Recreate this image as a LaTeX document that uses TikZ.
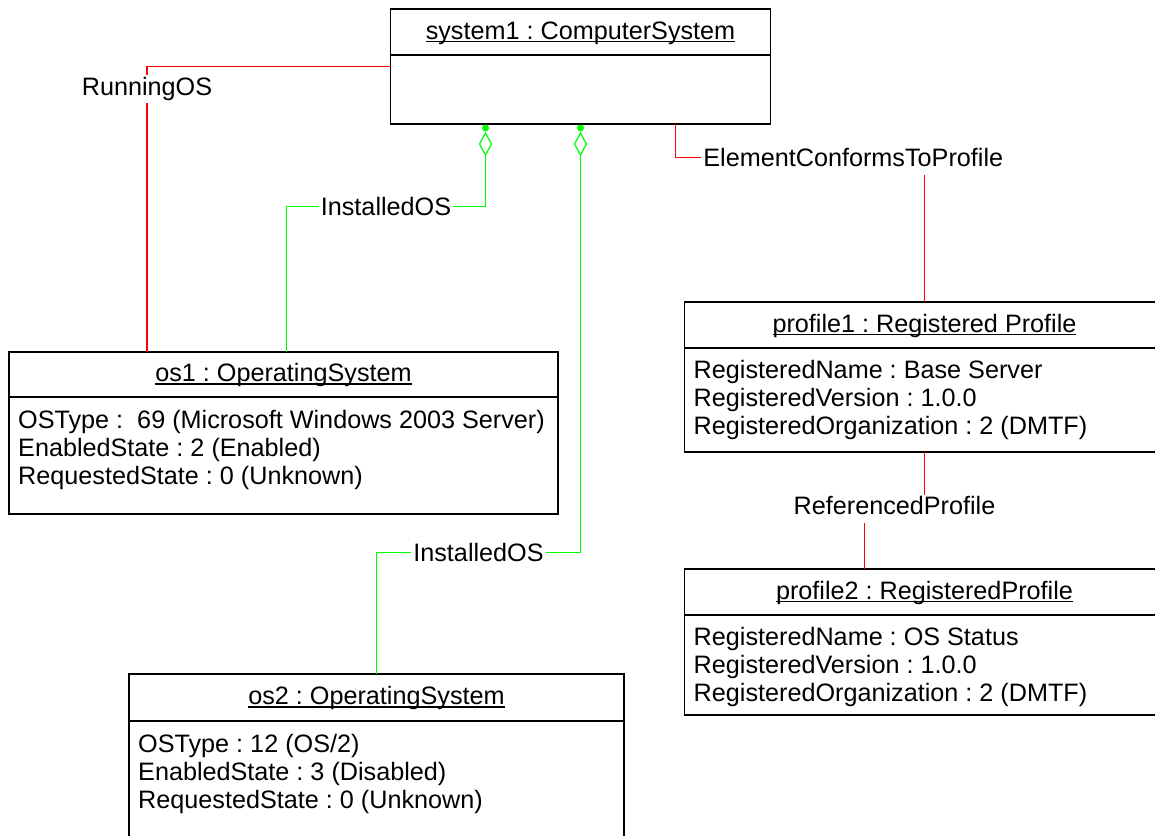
\documentclass[tikz,border=0pt]{standalone}
\usepackage{fontspec}
\setmainfont{Liberation Sans}
\usepackage{xcolor}
\usetikzlibrary{positioning,shapes.geometric}

\definecolor{assocred}{RGB}{255,0,0}
\definecolor{assocgreen}{RGB}{0,255,0}
\newcommand{\umlfont}{\fontsize{25.2}{28}\selectfont}
\newcommand{\uname}[1]{\setbox0\hbox{#1}\rlap{\rule[-3pt]{\wd0}{1.3pt}}\box0}
\frenchspacing

\begin{document}
\begin{tikzpicture}[x=1pt, y=-1pt,
    objtitle/.style={draw, line width=1.6pt, outer sep=0pt, minimum height=46pt, inner sep=0pt, text height=18pt, text depth=4pt, font=\umlfont},
    objattr/.style={draw, line width=1.6pt, outer sep=0pt, anchor=north, inner sep=0pt},
    attrtext/.style={anchor=north west, inner sep=0pt, align=left, font=\umlfont},
    runline/.style={assocred, line width=1.4pt},
    instline/.style={assocgreen, line width=1.3pt},
    assoclabel/.style={fill=white, text=black, inner sep=2pt, text height=18pt, text depth=6pt, yshift=-3pt, font=\umlfont},
    aggdiamond/.style={diamond, draw=assocgreen, fill=white, line width=1.2pt, outer sep=0pt, minimum width=12pt, minimum height=22pt, inner sep=0pt}]
            \useasboundingbox (0,0) rectangle (1155,835);
            \fill [white] (0,0) rectangle (1155,835);
            \clip (0,0) rectangle (1155,835);

            % objects
            \node [objtitle, minimum width=380pt] (sys) at (580.5,32) {\uname{system1 : ComputerSystem}};
            \node [objattr, minimum width=380pt, minimum height=69pt] (sysattr) at (sys.south) {};

            \node [objtitle, minimum width=549pt, minimum height=45pt] (os1) at (283.5,374.5) {\uname{os1 : OperatingSystem}};
            \node [objattr, minimum width=549pt, minimum height=117pt] (os1attr) at (os1.south) {};
            \node [attrtext] (os1text) at ([xshift=9pt,yshift=-13pt]os1attr.north west) {OSType : \ 69 (Microsoft Windows 2003 Server)\\EnabledState : 2 (Enabled)\\RequestedState : 0 (Unknown)};

            \node [objtitle, minimum width=495pt, minimum height=47pt] (os2) at (376.5,697.5) {\uname{os2 : OperatingSystem}};
            \node [objattr, minimum width=495pt, minimum height=130pt] (os2attr) at (os2.south) {};
            \node [attrtext] (os2text) at ([xshift=9pt,yshift=-13pt]os2attr.north west) {OSType : 12 (OS/2)\\EnabledState : 3 (Disabled)\\RequestedState : 0 (Unknown)};

            \node [objtitle, minimum width=480pt] (prof1) at (924.5,325) {\uname{profile1 : Registered Profile}};
            \node [objattr, minimum width=480pt, minimum height=104pt] (prof1attr) at (prof1.south) {};
            \node [attrtext] (prof1text) at ([xshift=9pt,yshift=-12pt]prof1attr.north west) {RegisteredName : Base Server\\RegisteredVersion : 1.0.0\\RegisteredOrganization : 2 (DMTF)};

            \node [objtitle, minimum width=480pt] (prof2) at (924.5,592) {\uname{profile2 : RegisteredProfile}};
            \node [objattr, minimum width=480pt, minimum height=100pt] (prof2attr) at (prof2.south) {};
            \node [attrtext] (prof2text) at ([xshift=9pt,yshift=-12pt]prof2attr.north west) {RegisteredName : OS Status\\RegisteredVersion : 1.0.0\\RegisteredOrganization : 2 (DMTF)};

            % aggregation ends
            \node [aggdiamond] (agg1) at ([xshift=-95pt,yshift=-20pt]sysattr.south) {};
            \node [aggdiamond] (agg2) at ([yshift=-20pt]sysattr.south) {};
            \fill [assocgreen] ([yshift=5pt]agg1.north) circle (3.5pt);
            \fill [assocgreen] ([yshift=5pt]agg2.north) circle (3.5pt);

            % associations
            \draw [runline] ([yshift=-11.5pt]sysattr.north west) -| node [assoclabel, pos=0.535]{RunningOS} ([xshift=138pt]os1.north west);
            \draw [instline] (agg1.south) -- ++(0,51.5) -| node [assoclabel, pos=0.25]{InstalledOS} ([xshift=277.5pt]os1.north west);
            \draw [instline] (agg2.south) -- ++(0,397.5) -| node [assoclabel, pos=0.25]{InstalledOS} ([xshift=247.5pt]os2.north west);
            \draw [runline] ([xshift=95pt]sysattr.south) -- ++(0,33.5) -| node [assoclabel, pos=0.357]{ElementConformsToProfile} (prof1.north);
            \draw [runline] (prof1attr.south) -- ++(0,53.5) -| node [assoclabel, pos=0.25]{ReferencedProfile} ([xshift=180pt]prof2.north west);
        \end{tikzpicture}
\end{document}
